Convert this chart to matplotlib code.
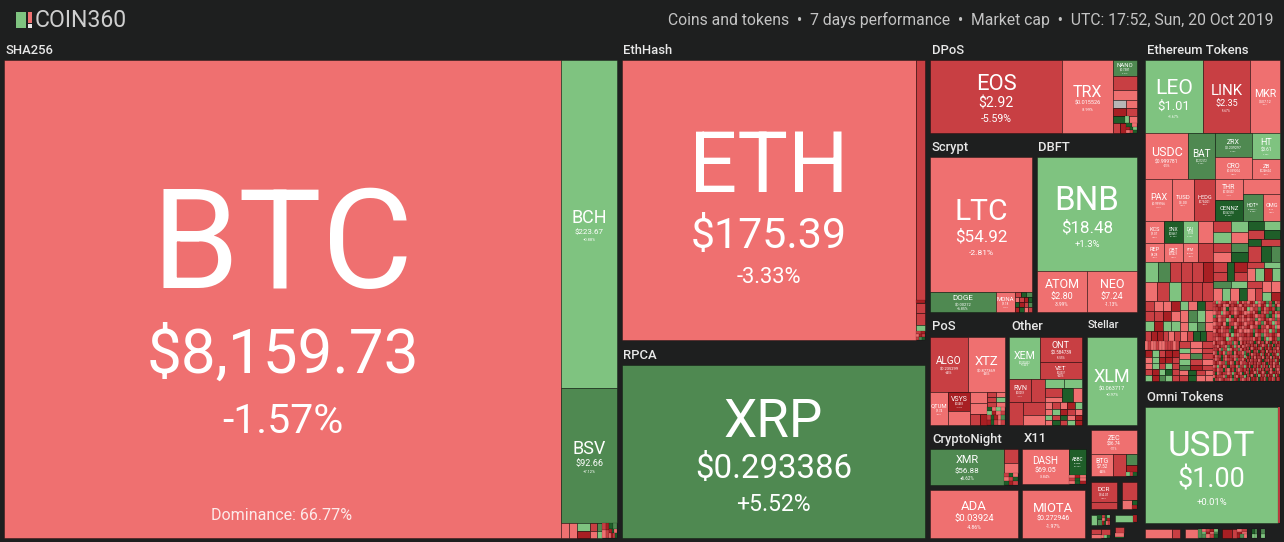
import matplotlib
matplotlib.use("Agg")
import matplotlib.pyplot as plt
from matplotlib.patches import Rectangle

plt.rcParams['font.family'] = ['Roboto', 'DejaVu Sans']

# labelled coins (small ones are estimates)
tickers = ["BTC", "BCH", "BSV", "ETH", "XRP", "EOS", "TRX", "NANO", "LTC", "DOGE", "MONA",
           "BNB", "ATOM", "NEO", "ALGO", "XTZ", "QTUM", "VSYS", "XEM", "ONT", "VET", "RVN",
           "XLM", "XMR", "ADA", "DASH", "ABBC", "MIOTA", "ZEC", "BTG", "DCR", "USDT",
           "LEO", "LINK", "MKR", "USDC", "BAT", "ZRX", "HT", "CRO", "ZB", "PAX", "TUSD",
           "HEDG", "THR", "CENNZ", "HOT*", "OMG", "KCS", "SNX", "DAI", "REP", "QBT", "FTM"]
prices = ["$8,159.73", "$223.67", "$92.66", "$175.39", "$0.293386", "$2.92", "$0.015526", "$0.7381", "$54.92",
          "$0.00272", "$1.18", "$18.48", "$2.80", "$7.24", "$0.235299", "$0.877369", "$1.74", "$0.0483",
          "$0.039352", "$0.584739", "$0.0037", "$0.0259", "$0.063717", "$56.88", "$0.03924", "$69.05",
          "$0.0628", "$0.272946", "$36.74", "$7.52", "$14.31", "$1.00", "$1.01", "$2.35", "$507.12",
          "$0.999781", "$0.212572", "$0.239297", "$3.61", "$0.039204", "$0.246604", "$0.999966", "$1.00",
          "$0.754321", "$0.108502", "$0.062518", "$0.000297", "$0.72", "$1.07", "$0.8667", "$1.00",
          "$8.28", "$0.5429", "$0.0122"]
changes = [-1.57, 0.88, 7.12, -3.33, 5.52, -5.59, -3.99, 6.41, -2.81, 6.85, -2.1,
           1.3, -3.99, -1.13, -6.45, -4.55, -3.2, -11.4, 1.4, -5.55, -6.2, -7.1,
           0.97, 6.62, -4.86, -3.84, 12.3, -1.97, -1.11, -4.4, -6.3, 0.01,
           1.67, -5.67, -1.3, -0.1, 6.2, 5.7, 2.4, -2.5, -1.8, -0.1, -0.05,
           -7.2, -3.1, 13.5, 7.4, -2.9, -2.2, 11.2, 0.3, -4.1, -2.6, -3.5]

# font sizes in px per label (name, price, change)
label_px = {"BTC": (140, 62, 41), "BCH": (18, 8, 4), "BSV": (18, 9, 4), "ETH": (85, 43, 22),
            "XRP": (53, 33, 23), "EOS": (22, 14, 10.5), "TRX": (16, 5.5, 4), "NANO": (6, 3, 2),
            "LTC": (30, 17, 8.5), "DOGE": (8, 4, 3.5), "MONA": (6, 3, 2), "BNB": (33, 17, 9.5),
            "ATOM": (12.5, 9, 4.5), "NEO": (12.5, 9, 4.5), "ALGO": (10, 4, 2.5), "XTZ": (13, 4, 2.5),
            "QTUM": (6, 3, 2), "VSYS": (7, 2.5, 2), "XEM": (10.5, 2.5, 2.5), "ONT": (9, 4.5, 3),
            "VET": (6.5, 2.5, 2.5), "RVN": (7, 2.5, 2), "XLM": (18, 5.5, 4), "XMR": (11, 8, 4.5),
            "ADA": (13, 9.5, 5), "DASH": (10, 7, 3.5), "ABBC": (4.5, 2, 2), "MIOTA": (13, 7, 5),
            "ZEC": (7, 4.5, 2.5), "BTG": (7, 4.5, 2.5), "DCR": (6.5, 3.5, 2), "USDT": (35, 27, 9.5),
            "LEO": (21, 13, 3.5), "LINK": (15, 9, 3), "MKR": (10.5, 3.5, 2), "USDC": (12.5, 5, 2.5),
            "BAT": (10, 2.5, 2), "ZRX": (7, 3.5, 2), "HT": (9, 4.5, 2), "CRO": (7, 3, 2),
            "ZB": (6, 2.5, 2), "PAX": (9, 3, 2), "TUSD": (6, 3.5, 2), "HEDG": (5.5, 2.5, 2),
            "THR": (7, 2.5, 2), "CENNZ": (6, 2.5, 2), "HOT*": (5, 2, 2), "OMG": (5.5, 2, 2),
            "KCS": (5.5, 3, 2), "SNX": (5, 2.5, 2), "DAI": (4.5, 2.5, 2), "REP": (5.5, 3, 2),
            "QBT": (5, 2.5, 2), "FTM": (3.5, 2, 2)}

page_bg = "#1e1f1f"
palette = {"a": "#ef7070", "b": "#c83f43", "c": "#a81f23",
           "d": "#7fc380", "e": "#4f8951", "f": "#1f5e29", "g": "#b8b6b6"}


def H(*items):
    return ("h", items)


def V(*items):
    return ("v", items)


# group name, name x, name y, box and the tree of that box
# a tree holds weights, tickers, and lower case strips of unlabelled coins
sha_tree = H(557, "BTC", 56, V(328, "BCH", 135, "BSV", 15, H(
    8, "a", 8, "a", 13, V(8, "d", 7, "c"), 7, V(8, "b", 7, "a"), 5, V(8, "e", 7, "d"),
    7, V(7, "bc", 8, "ab"), 8, V(6, "fe", 4, "cfa", 5, "acbf"))))
eth_tree = H(294, "ETH", 9, V(240, "b", 3, "c", 10, "b", 12, "b", 6, "d", 3, "bc", 3, "acb", 3, "bef"))
xrp_tree = H(1, "XRP")
dpos_tree = H(132, "EOS", 51, "TRX", 24, V(
    16, "NANO", 14, "b", 10, "a", 8, H(13, "g", 11, "a"), 8, H(13, "c", 11, "b"),
    7, H(12, "f", 4, "d", 8, "a"), 10, H(7, "b", 6, "c", 11, V(4, "fa", 3, "cfd", 3, "abf"))))
scrypt_tree = V(135, "LTC", 20, H(66, "DOGE", 19, "MONA", 17, V(5, "bfe", 5, "abcf", 5, "fcbe", 5, "cfab")))
dbft_tree = V(114, "BNB", 41, H(50, "ATOM", 50, "NEO"))
pos_tree = V(55, H(38, "ALGO", 37, "XTZ"), 33, H(
    18, "QTUM", 22, V(19, "VSYS", 14, "a"), 17, V(11, "a", 11, "a", 11, H(10, "b", 7, "c")),
    18, V(5, "ba", 5, "bd", 5, "ba", 4, "fada", 4, "dcab", 5, "bfcae", 5, "cfbab")))
other_tree = V(42, H(31, "XEM", 42, V(25, "ONT", 17, "VET")), 46, H(
    36, V(23, H(22, "RVN", 14, "b"), 23, H(14, "b", 22, V(13, "b", 10, "a"))),
    37, V(9, "dd", 14, H(17, V(9, "b", 5, "a"), 11, "f", 9, "a"),
          7, "abacd", 6, "adcba", 5, "dbfac", 5, "afbdc")))
xlm_tree = H(1, "XLM")
xmr_tree = H(74, "XMR", 14, V(14, "b", 10, "a", 4, "bfa", 4, "abf", 4, "fcb"))
ada_tree = H(1, "ADA")
dash_tree = H(47, "DASH", 17, V(26, "ABBC", 3, "aca", 3, "bfa", 3, "afc"))
miota_tree = H(1, "MIOTA")
zec_tree = V(24, "ZEC", 22, H(22, "BTG", 12, "b", 11, V(11, "e", 7, "c", 4, "dbf")))
dcr_tree = H(26, V(20, "DCR", 7, "b"), 5, "", 15, V(18, "b", 9, H(10, "a", 5, V(5, "f", 4, "c"))))
tiny_a_tree = H(6, "d", 5, V(4, "f", 6, "e"), 8, V(3, "bfd", 3, "afc", 4, "cfab"))
tiny_b_tree = H(18, "d", 4, "c")
tiny_c_tree = H(9, V(4, "b", 4, "a"), 9, V(5, "b", 3, "adf"))
tiny_d_tree = V(6, "b", 4, "a", 1, "f")
usdt_tree = H(133, "USDT", 2, "b")
omni_a_tree = H(27, "a", 8, "b")
omni_b_tree = H(13, "a", 4, "e", 16, V(3, "abcd", 3, "dcae", 4, "eabf"))
omni_c_tree = H(10, "c", 5, "b", 10, V(3, "ab", 3, "ca", 4, "cea"))
omni_d_tree = V(5, "fe", 5, "dd")
omni_e_tree = V(5, "e", 5, "d")
erc_tree = V(
    73, H(58, "LEO", 47, "LINK", 30, "MKR"),
    46, H(43, "USDC", 27, "BAT", 37, V(24, "ZRX", 22, "CRO"), 28, V(26, "HT", 20, "ZB")),
    42, H(27, "PAX", 22, "TUSD", 21, "HEDG", 28, V(21, "THR", 21, "CENNZ"),
          37, V(15, "a", 27, H(20, "HOT*", 17, "OMG"))),
    41, H(68, V(22, H(19, "KCS", 19, "SNX", 15, "DAI", 15, "a"), 19, H(19, "REP", 19, "QBT", 15, "FTM", 15, "b")),
          35, V(11, "bd", 11, "da", 9, "be", 10, "af"),
          32, V(9, "fd", 9, "bf", 7, H(13, "f", 19, "b"), 16, H(13, "b", 10, "f", 9, "e"))),
    39, H(68, V(20, H(13, "d", 12, "e", 11, "b", 11, "b", 11, "b", 10, "c"),
                19, H(12, "a", 12, "b", 12, "d", 11, "b", 10, "b", 11, "b")),
          34, V(19, H(14, V(10, "b", 9, "b"), 7, "f", 13, V(10, "c", 9, "b")), 7, H(18, "e", 16, "d"), 13, "adaf"),
          33, V(6, "bd", 13, "adcd", 20, H(15, V(7, "b", 13, "ab"), 18, V(11, "aa", 9, "dc")))),
    40, H(35, V(10, "baac", 10, "bbca", 10, "dcdd", 10, "bccbab"),
          33, V(9, "dafb", 12, "aeda", 9, "adea", 10, "abffb"),
          34, V(3, "bdabbcabbdcab", 3, "bcbcaacbcbacb", 4, "bbcbafbbabbac", 4, "abbdabcbabcba",
                3, "ebabbcafbcbac", 4, "bcabbdabcabab", 4, "abbcafbbabcba", 3, "bbcabcbfacbab",
                4, "acbabbefcbaba", 4, "bbcbbacdbabbc", 4, "babbcdabcbabb"),
          33, V(3, "acbdabcebfab", 3, "bbabacbdbeca", 4, "dabbecabcbfe", 3, "abacfbabecab",
                4, "bcbabbcefbda", 3, "abbeabcbabeb", 4, "bbcabeacbdab", 4, "cabbfbbacbda",
                4, "abebcbabdbec", 4, "bcfabeabbcba", 4, "bbacbfbdacbe")),
    40, H(34, V(9, "abaabaabbbab", 7, "cdbcc", 6, "adccb", 6, "adbdb", 6, "bcdfb", 6, "dcedb"),
          34, V(7, "bab", 5, "dab", 6, "aeb", 6, "dba", 5, "ecb", 5, "afba", 6, "bfaa"),
          33, V(4, "acbbabcbbeabfacb", 3, "bbacbbaecbdbacab", 3, "bbcaebbdacbbeacb", 4, "abfbcaebbfacbbae",
                3, "cabbfbacbbabcbbd", 3, "babcfbabbcaebbac", 4, "bcbabbecabfbcabb", 3, "abdbcabfbbcaebbd",
                4, "bcabbfbacbfbabcb", 3, "bfabcbbabdbcbafc", 3, "acbbbaecbfbacbbd", 3, "fbbabcbbaebcfbab"),
          34, V(3, "cbbabcfbbacbbfbacbfcbbacb", 3, "abbcbcbafcbbabbcdbcafbcbb", 3, "cbfbabcbcbdacfbcabcfbbbac",
                3, "bbacfcbbafcbbcfacbbcbacbb", 3, "cfbcabbcbcadbfccabfbcbadb", 3, "acbfbcacbbbcacfbbcafbcbca",
                3, "fbcabcbbcabcfcbbacbcbdacf", 3, "bcabbcbcabbcbacfbcbcabbcd", 3, "bcacfbbcacbdbacbfdbcacbbb",
                3, "cbfbcacbdbacbfbbbcacfbbab", 3, "abfccbabdccbabcfcbabcbcba", 3, "fbcbacfbcdacbbdcaccbdcacf",
                4, "cbafcbcbafcbcabfcbcabfcbc")),
    1, "")

group_names = ["SHA256", "EthHash", "RPCA", "DPoS", "Scrypt", "DBFT", "PoS", "Other", "Stellar",
               "CryptoNight", "X11", "Ethereum Tokens", "Omni Tokens"]
group_trees = [sha_tree, eth_tree, xrp_tree, dpos_tree, scrypt_tree, dbft_tree, pos_tree, other_tree,
               xlm_tree, xmr_tree, dash_tree, erc_tree, usdt_tree]
extra_trees = [ada_tree, miota_tree, zec_tree, dcr_tree, tiny_a_tree, tiny_b_tree, tiny_c_tree, tiny_d_tree,
               omni_a_tree, omni_b_tree, omni_c_tree, omni_d_tree, omni_e_tree]

# page layout in px: left, top, right, bottom
group_boxes = [(4, 60, 617, 538), (622, 60, 925, 340), (622, 365, 925, 538), (930, 60, 1137, 133),
               (930, 157, 1032, 312), (1037, 157, 1137, 312), (930, 337, 1005, 425), (1009, 337, 1082, 425),
               (1087, 337, 1137, 425), (930, 449, 1018, 485), (1022, 449, 1086, 484), (1145, 60, 1280, 382),
               (1145, 407, 1280, 523)]
extra_boxes = [(930, 490, 1018, 538), (1022, 490, 1085, 538), (1091, 430, 1137, 476), (1091, 482, 1137, 509),
               (1091, 515, 1110, 525), (1115, 515, 1137, 522), (1091, 529, 1110, 538), (1115, 527, 1124, 538),
               (1145, 529, 1180, 538), (1185, 529, 1218, 538), (1222, 529, 1247, 538), (1252, 529, 1257, 538),
               (1261, 529, 1265, 538)]
name_pos = [(6, 49), (623, 49), (623, 354), (932, 49), (932, 146), (1038, 146), (932, 325), (1011, 325),
            (1088, 323), (932, 438), (1024, 437), (1147, 49), (1147, 396)]
small_names = ["Stellar"]

fig = plt.figure(figsize=(12.84, 5.42), dpi=100, facecolor=page_bg)
ax = fig.add_axes([0, 0, 1, 1])
ax.set_xlim(0, 1284)
ax.set_ylim(542, 0)
ax.axis("off")

coin_changes = dict(zip(tickers, changes))
coin_prices = dict(zip(tickers, prices))


def change_colour(change):
    if change == 0:
        return palette["g"]
    step = abs(change)
    if change > 0:
        return palette["d"] if step < 5 else palette["e"] if step < 10 else palette["f"]
    return palette["a"] if step < 5 else palette["b"] if step < 10 else palette["c"]


def px(size):
    return size * 72 / fig.dpi


def cell(x0, y0, x1, y1, colour):
    w = x1 - x0
    h = y1 - y0
    lw = 0.7 if min(w, h) > 4 else 0.3
    ax.add_patch(Rectangle((x0, y0), w, h, facecolor=colour, edgecolor=(0, 0, 0, 0.35), linewidth=lw))


def label(ticker, x0, y0, x1, y1):
    n, p, q = label_px[ticker]
    sign = "+" if coin_changes[ticker] > 0 else ""
    pct = f"{sign}{coin_changes[ticker]:.2f}%"
    if ticker == "BNB":
        pct = "+1.3%"
    gap1 = 0.56 * (n + p)
    gap2 = 0.65 * (p + q)
    height = n / 2 + gap1 + gap2 + q / 2
    xc = (x0 + x1) / 2
    yc = (y0 + y1) / 2 - height / 2 + n / 2 + 0.03 * n
    ax.text(xc, yc + 0.355 * n, ticker, color="white", fontsize=px(n), ha="center", va="baseline")
    ax.text(xc, yc + gap1 + 0.355 * p, coin_prices[ticker], color="white", fontsize=px(p), ha="center", va="baseline")
    ax.text(xc, yc + gap1 + gap2 + 0.355 * q, pct, color="white", fontsize=px(q), ha="center", va="baseline")


def draw_node(node, x0, y0, x1, y1, parent="v"):
    if isinstance(node, tuple):
        kind, items = node
        weights = items[0::2]
        kids = items[1::2]
        total = sum(weights)
        pos = x0 if kind == "h" else y0
        span = (x1 - x0) if kind == "h" else (y1 - y0)
        for w, kid in zip(weights, kids):
            step = span * w / total
            if kind == "h":
                draw_node(kid, pos, y0, pos + step, y1, "h")
            else:
                draw_node(kid, x0, pos, x1, pos + step, "v")
            pos += step
    elif node in coin_changes:
        cell(x0, y0, x1, y1, change_colour(coin_changes[node]))
        label(node, x0, y0, x1, y1)
    elif len(node) == 1:
        cell(x0, y0, x1, y1, palette[node])
    elif len(node) > 1:
        # a strip of unlabelled coins, across its parent
        for i, code in enumerate(node):
            if parent == "v":
                step = (x1 - x0) / len(node)
                cell(x0 + i * step, y0, x0 + (i + 1) * step, y1, palette[code])
            else:
                step = (y1 - y0) / len(node)
                cell(x0, y0 + i * step, x1, y0 + (i + 1) * step, palette[code])


for tree, box in zip(group_trees + extra_trees, group_boxes + extra_boxes):
    draw_node(tree, *box)

for name, (x, y) in zip(group_names, name_pos):
    size = 11 if name in small_names else 13
    ax.text(x, y + 1.5, name, color="#e8e8e8", fontsize=px(size), fontweight="medium", ha="left", va="center")

ax.text(282, 515, "Dominance: 66.77%", color="white", fontsize=px(16), ha="center", va="center", alpha=0.85)

# header
ax.add_patch(Rectangle((16, 12), 10, 16, facecolor=palette["d"], edgecolor="none"))
ax.add_patch(Rectangle((28, 12), 4, 11, facecolor=palette["a"], edgecolor="none"))
ax.add_patch(Rectangle((28, 24), 4, 4, facecolor="#e8e8e8", edgecolor="none"))
ax.text(35, 20.5, "COIN360", color="#cfcfcf", fontsize=px(23), ha="left", va="center")
ax.text(1274, 20, "Coins and tokens  \u2022  7 days performance  \u2022  Market cap  \u2022  UTC: 17:52, Sun, 20 Oct 2019",
        color="#c4c4c4", fontsize=px(15.7), ha="right", va="center")

fig.savefig("out.png", dpi=100, facecolor=page_bg)
